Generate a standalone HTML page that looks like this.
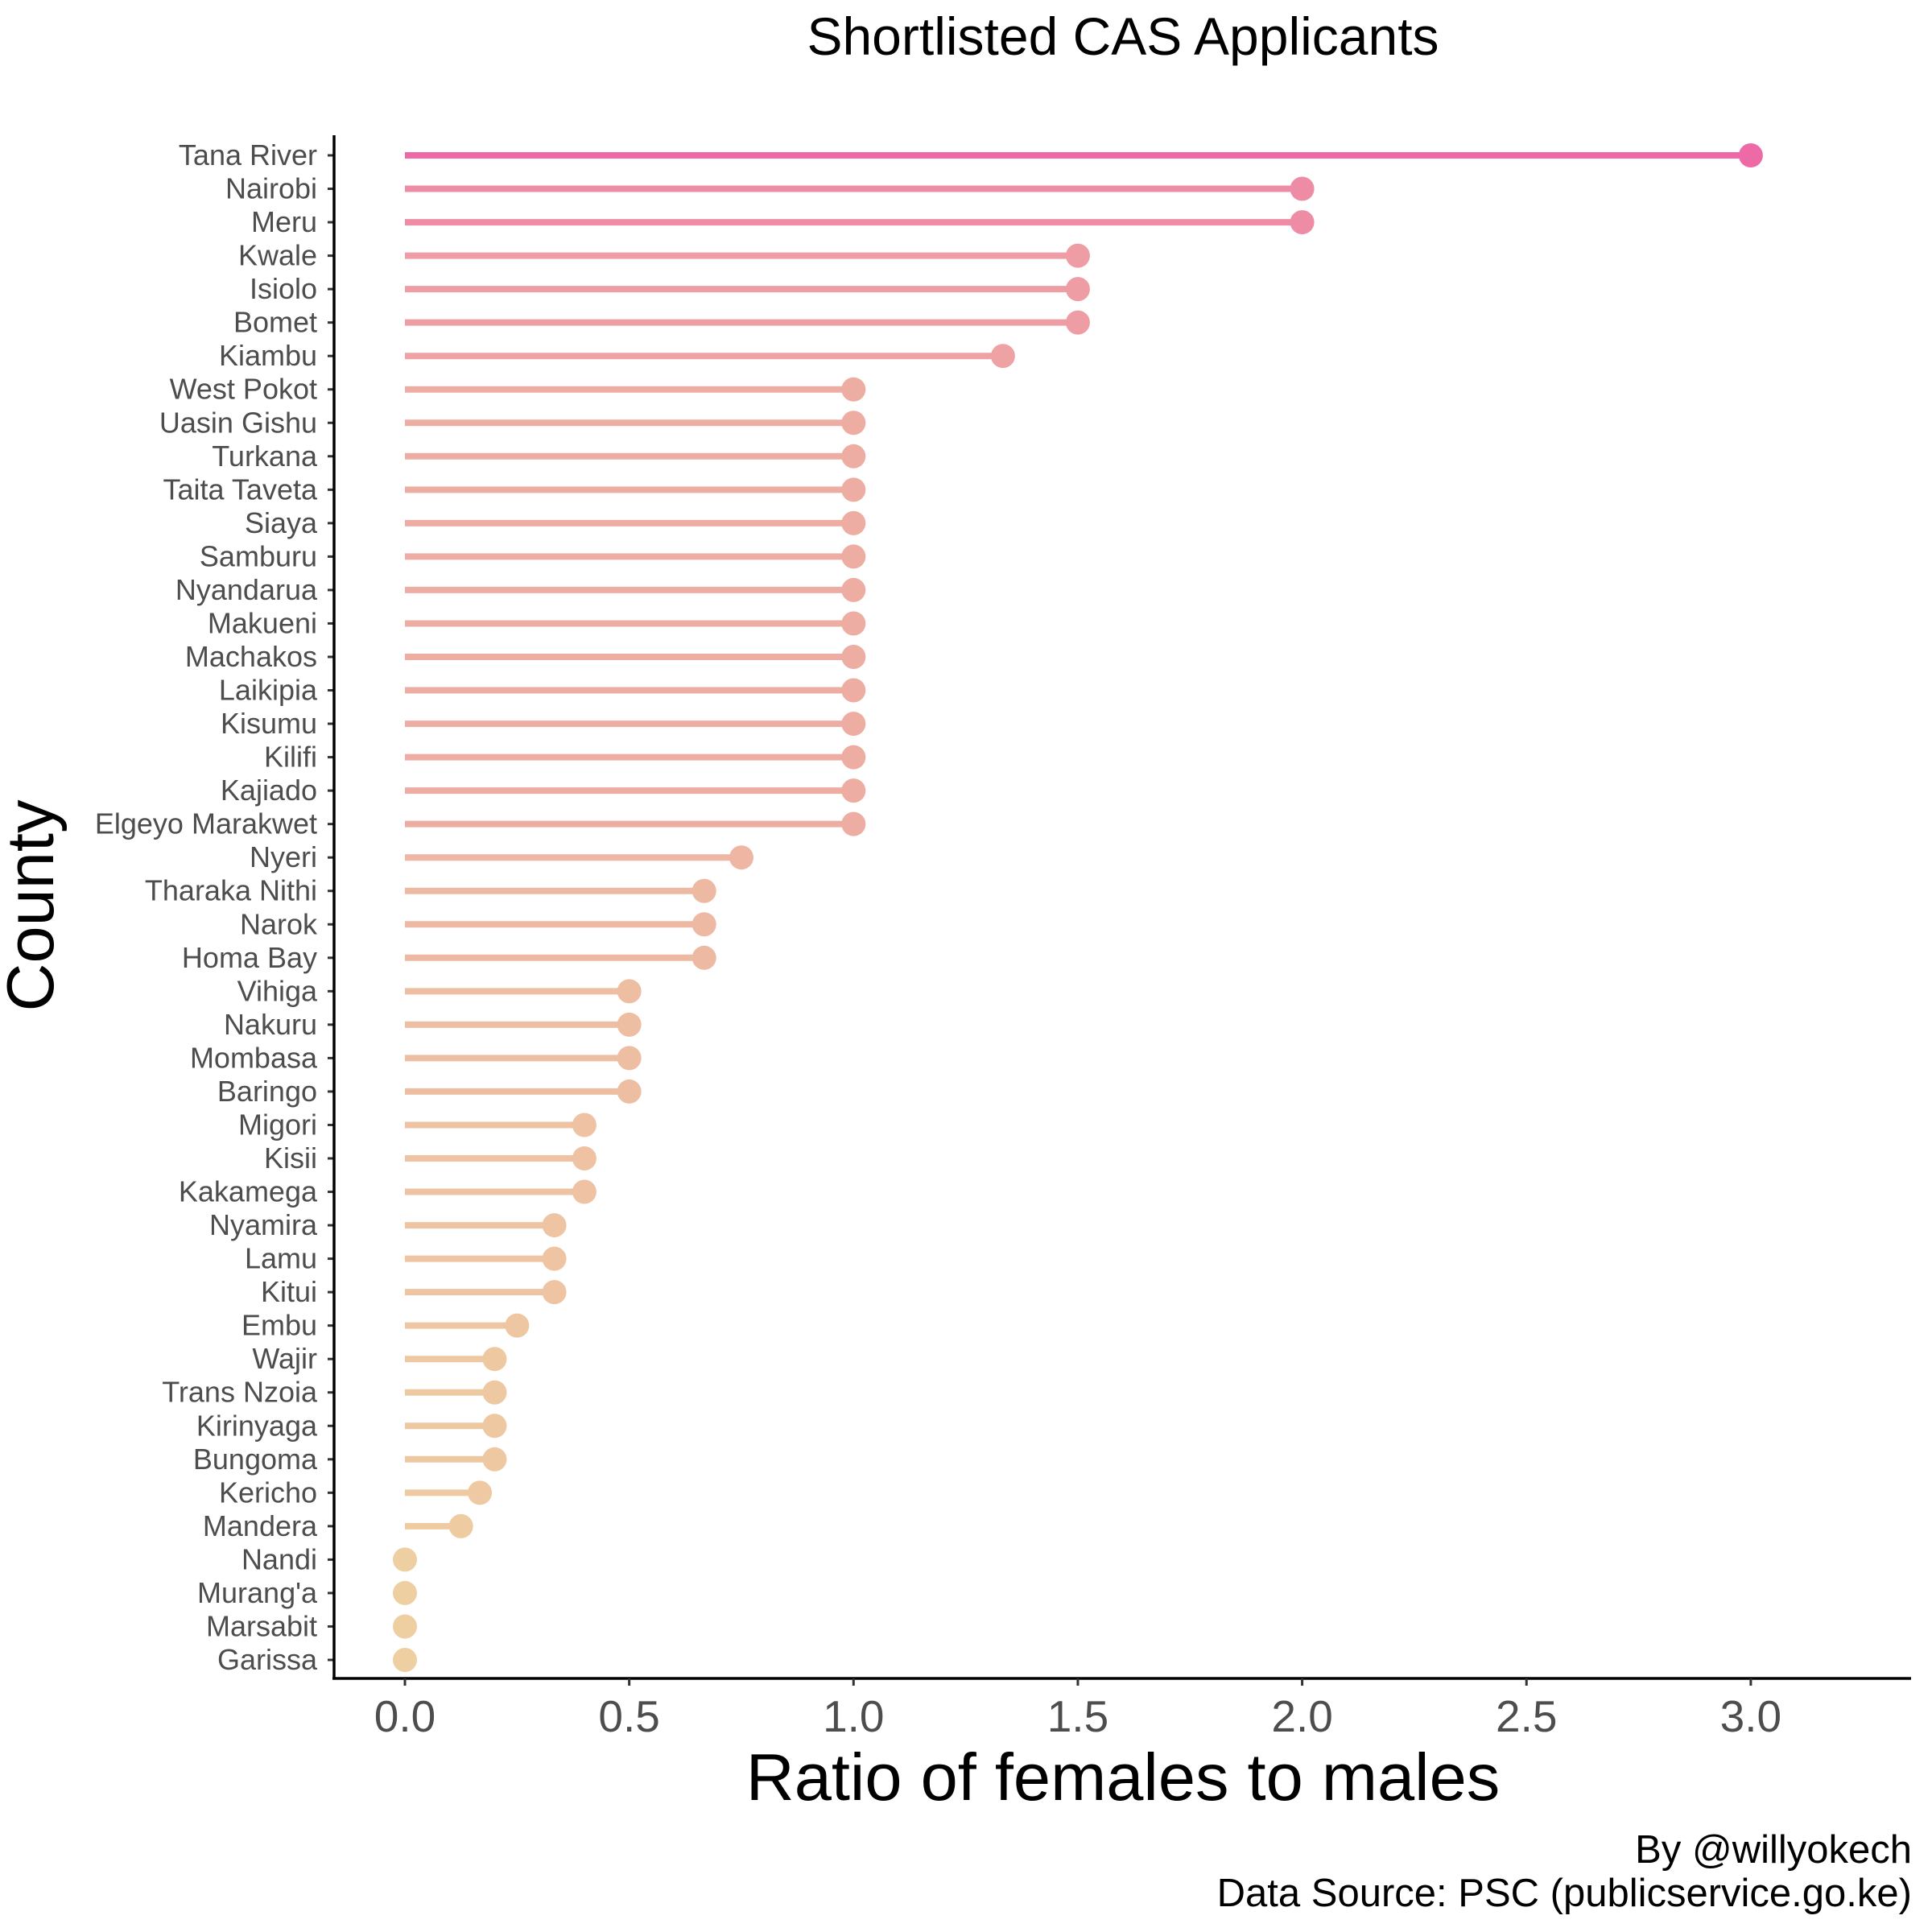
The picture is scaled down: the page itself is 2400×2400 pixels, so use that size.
<!DOCTYPE html>
<html><head><meta charset="utf-8"><style>
html,body{margin:0;padding:0;background:#fff;}
svg{display:block;font-family:"Liberation Sans",Arial,sans-serif;}
</style></head><body>
<svg id="chart" width="2400" height="2400" viewBox="0 0 2400 2400">
<text x="1395" y="68" text-anchor="middle" font-size="66" fill="#000">Shortlisted CAS Applicants</text>
<g id="marks"></g>
<g id="yaxis"></g>
<g id="xaxis"></g>
<text x="1395" y="2236" text-anchor="middle" font-size="83" fill="#000">Ratio of females to males</text>
<text transform="translate(66,1125) rotate(-90)" text-anchor="middle" font-size="83" fill="#000">County</text>
<text x="2375" y="2314" text-anchor="end" font-size="49" fill="#000">By @willyokech</text>
<text x="2375" y="2368" text-anchor="end" font-size="49" fill="#000">Data Source: PSC (publicservice.go.ke)</text>
</svg>
<script>
const counties = ["Tana River","Nairobi","Meru","Kwale","Isiolo","Bomet","Kiambu","West Pokot","Uasin Gishu","Turkana","Taita Taveta","Siaya","Samburu","Nyandarua","Makueni","Machakos","Laikipia","Kisumu","Kilifi","Kajiado","Elgeyo Marakwet","Nyeri","Tharaka Nithi","Narok","Homa Bay","Vihiga","Nakuru","Mombasa","Baringo","Migori","Kisii","Kakamega","Nyamira","Lamu","Kitui","Embu","Wajir","Trans Nzoia","Kirinyaga","Bungoma","Kericho","Mandera","Nandi","Murang'a","Marsabit","Garissa"];
const ratios = [3,2,2,1.5,1.5,1.5,1.333,1,1,1,1,1,1,1,1,1,1,1,1,1,1,0.75,0.667,0.667,0.667,0.5,0.5,0.5,0.5,0.4,0.4,0.4,0.333,0.333,0.333,0.25,0.2,0.2,0.2,0.2,0.167,0.125,0,0,0,0];
const xTicks = [0,0.5,1,1.5,2,2.5,3];
const xTickLabels = ["0.0","0.5","1.0","1.5","2.0","2.5","3.0"];

const NS="http://www.w3.org/2000/svg";
const X0=503, XU=557.3, Y0=193, DY=(2062-193)/45;
const xs=v=>X0+v*XU;
const ys=i=>Y0+i*DY;
const lo=[238,207,161], hi=[238,106,167];
function col(v){const t=Math.max(0,Math.min(1,v/3));return "rgb("+lo.map((c,k)=>Math.round(c+(hi[k]-c)*t)).join(",")+")";}
function mk(tag,attrs,parent){const e=document.createElementNS(NS,tag);for(const k in attrs)e.setAttribute(k,attrs[k]);parent.appendChild(e);return e;}
const marks=document.getElementById('marks'),ya=document.getElementById('yaxis'),xa=document.getElementById('xaxis');
counties.forEach((c,i)=>{
  const v=ratios[i],y=ys(i),cl=col(v);
  const ln=mk('line',{x1:xs(0),x2:xs(v),y1:y,y2:y,stroke:cl,'stroke-width':8},marks);
  
  
  const dt=mk('circle',{cx:xs(v),cy:y,r:15,fill:cl},marks);
  
  
  const tk=mk('line',{x1:407,x2:415,y1:y,y2:y,stroke:'#333','stroke-width':3},ya);
  
  
  const tx=mk('text',{x:394,y:y+12,'text-anchor':'end','font-size':36,fill:'#4d4d4d'},ya);
  tx.textContent=c;
  
  
});
const yl=mk('line',{x1:415,x2:415,y1:168,y2:2086,stroke:'#000','stroke-width':3.5},ya);


const xl=mk('line',{x1:413,x2:2374,y1:2085,y2:2085,stroke:'#000','stroke-width':3.5},xa);


xTicks.forEach((v,i)=>{
  const t=mk('line',{x1:xs(v),x2:xs(v),y1:2085,y2:2094,stroke:'#333','stroke-width':3},xa);
  
  
  const l=mk('text',{x:xs(v),y:2151,'text-anchor':'middle','font-size':55,fill:'#4d4d4d'},xa);
  l.textContent=xTickLabels[i];
  
  
});
</script>
</body></html>
